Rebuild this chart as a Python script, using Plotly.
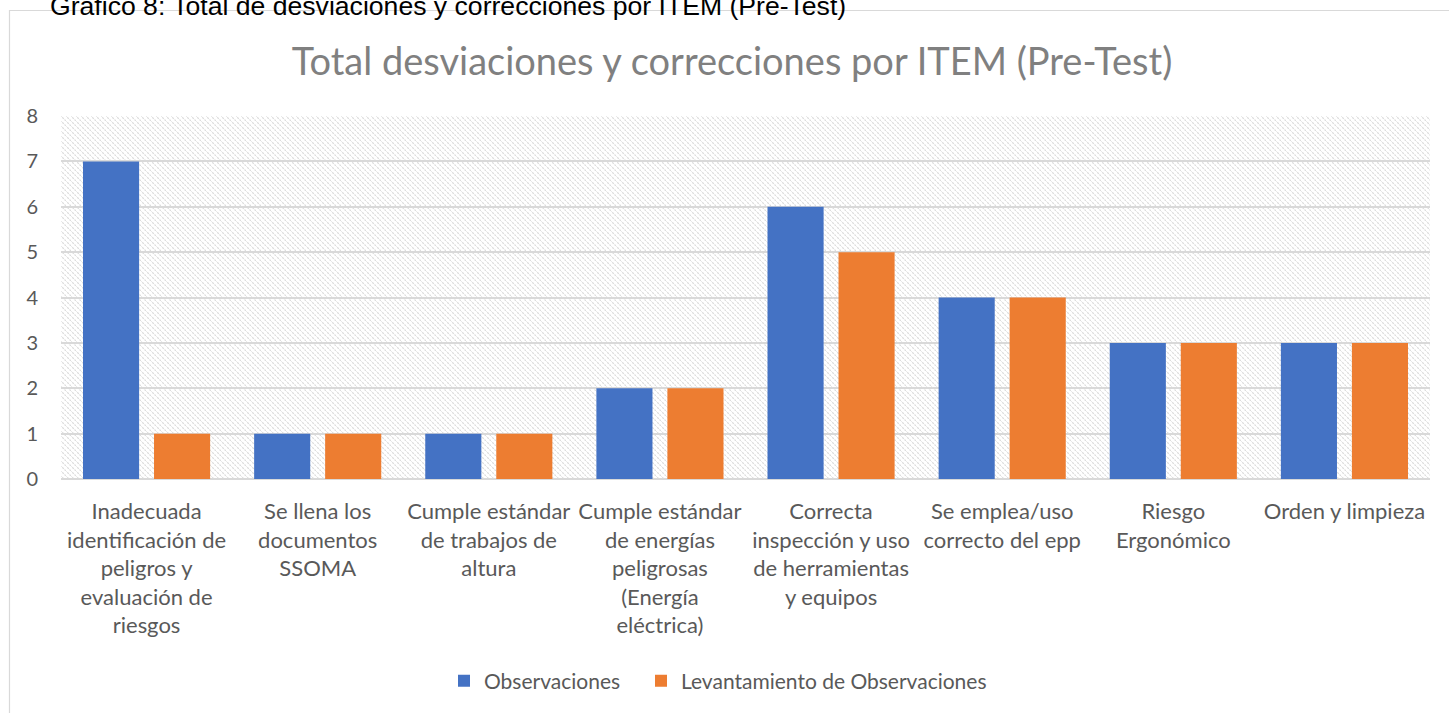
import base64
import plotly.graph_objects as go

categories = [
    "Inadecuada<br>identificación de<br>peligros y<br>evaluación de<br>riesgos",
    "Se llena los<br>documentos<br>SSOMA",
    "Cumple estándar<br>de trabajos de<br>altura",
    "Cumple estándar<br>de energías<br>peligrosas<br>(Energía<br>eléctrica)",
    "Correcta<br>inspección y uso<br>de herramientas<br>y equipos",
    "Se emplea/uso<br>correcto del epp",
    "Riesgo<br>Ergonómico",
    "Orden y limpieza",
]
observaciones = [7, 1, 1, 2, 6, 4, 3, 3]
levantamiento = [1, 1, 1, 2, 5, 4, 3, 3]
y_ticks = [0, 1, 2, 3, 4, 5, 6, 7, 8]

W, H = 1449, 713
L, R, T, B = 61, 19, 116, 234
PW, PH = W - L - R, H - T - B

svg = (
    f'<svg xmlns="http://www.w3.org/2000/svg" width="{PW}" height="{PH}" viewBox="0 0 {PW} {PH}">'
    '<defs><pattern id="p" width="5" height="5" patternUnits="userSpaceOnUse">'
    '<path d="M-1,-1 L6,6" stroke="#dcdcdc" stroke-width="1.2" stroke-dasharray="2.2,1"/>'
    '</pattern></defs>'
    '<rect width="100%" height="100%" fill="#ffffff"/>'
    '<rect width="100%" height="100%" fill="url(#p)"/></svg>'
)
svg_uri = "data:image/svg+xml;base64," + base64.b64encode(svg.encode()).decode()

fig = go.Figure()
fig.add_trace(go.Bar(x=categories, y=observaciones, name="Observaciones",
                     marker=dict(color="#4472C4", line=dict(width=0)),
                     legend="legend", showlegend=True))
fig.add_trace(go.Bar(x=categories, y=levantamiento, name="Levantamiento de Observaciones",
                     marker=dict(color="#ED7D31", line=dict(width=0)),
                     legend="legend2", showlegend=True))

def py(p):
    return (H - B - p) / PH

def px(p):
    return (p - L) / PW

legend_common = dict(
    orientation="h", xanchor="left",
    y=py(681), yanchor="middle",
    font=dict(size=21, color="#595959"),
    bgcolor="rgba(0,0,0,0)",
)

fig.update_layout(
    width=W, height=H,
    margin=dict(l=L, r=R, t=T, b=B),
    paper_bgcolor="white",
    plot_bgcolor="white",
    showlegend=True,
    font=dict(family="Lato, sans-serif", size=20, color="#595959"),
    barmode="group",
    bargap=0.17,
    bargroupgap=0.21,
    title=dict(
        text="Total desviaciones y correcciones por ITEM (Pre-Test)",
        font=dict(family="Lato, sans-serif", size=38, color="#808080"),
        x=732 / W, xanchor="center",
        y=1 - 62 / H, yanchor="middle",
    ),
    xaxis=dict(
        showgrid=False, showline=False, ticks="",
        tickfont=dict(size=22, color="#595959"),
        tickangle=0,
        ticklabelstandoff=17,
    ),
    yaxis=dict(
        range=[0, 8], tickvals=y_ticks,
        showgrid=True, gridcolor="#d9d9d9", gridwidth=1.5,
        zeroline=True, zerolinecolor="#d9d9d9", zerolinewidth=1.5,
        showline=False, ticks="",
        tickfont=dict(size=20, color="#595959"),
        ticklabelstandoff=22,
    ),
    legend=dict(x=px(444), **legend_common),
    legend2=dict(x=px(641), **legend_common),
    images=[dict(
        source=svg_uri, xref="paper", yref="paper",
        x=0, y=1, sizex=1, sizey=1, xanchor="left", yanchor="top",
        sizing="stretch", layer="below",
    )],
    shapes=[dict(
        type="rect", xref="paper", yref="paper",
        x0=px(9.5), x1=px(1470), y0=py(740), y1=py(10.5),
        line=dict(color="#d9d9d9", width=1.2), fillcolor="rgba(0,0,0,0)",
        layer="below",
    )],
    annotations=[dict(
        text="Gráfico 8: Total de desviaciones y correcciones por ITEM (Pre-Test)",
        xref="paper", yref="paper",
        x=px(48), xanchor="left",
        y=py(6), yanchor="middle",
        showarrow=False,
        font=dict(family="Liberation Sans, Arial, sans-serif", size=26.6, color="#000000"),
    )],
)

fig.write_html("out.html", config={"displayModeBar": False},
               post_script="document.body.style.margin='0px';")
